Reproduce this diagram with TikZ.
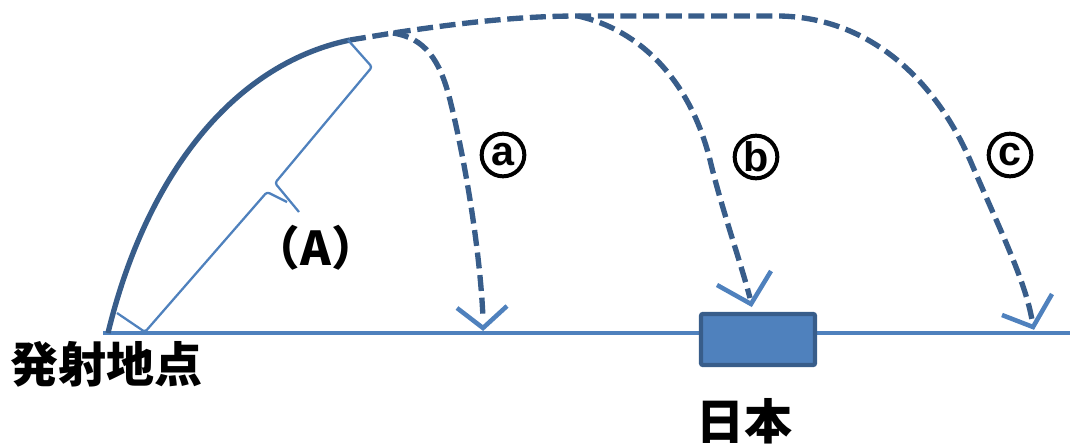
\documentclass[tikz,border=0pt]{standalone}
\usetikzlibrary{calc}
\usepackage{fontspec}
\newfontfamily\cjk{Noto Sans CJK JP}
\setsansfont{Liberation Sans}
\definecolor{dkblue}{RGB}{56,93,138}
\definecolor{ltblue}{RGB}{79,129,189}
\begin{document}
\begin{tikzpicture}[x=0.75pt,y=-0.75pt,
  ground/.style={ltblue,line width=3.4pt},
  launch/.style={dkblue,line width=4pt},
  flight/.style={dkblue,line width=4pt,dash pattern=on 12pt off 5pt},
  vhead/.style={ltblue,line width=3.4pt,line join=miter},
  brace/.style={ltblue,line width=1.7pt,rounded corners=2pt},
  circlab/.style={circle,draw=black,line width=3pt,minimum size=32pt,inner sep=0pt,font=\sffamily\bfseries\fontsize{31}{31}\selectfont},
  jlab/.style={font=\cjk\bfseries\fontsize{36}{36}\selectfont,inner sep=0pt}]
\useasboundingbox (0,0) rectangle (1070,447);
% coordinates
\coordinate (gl) at (103,333);
\coordinate (gr) at (1070,333);
\coordinate (launch) at (108,333);
\coordinate (apex) at (350,40);
\coordinate (brA) at (393,33);
\coordinate (brB) at (578,16);
\coordinate (brC) at (780,16);
\coordinate (endA) at (483,318);
\coordinate (endB) at (750,298);
\coordinate (endC) at (1032,320);
\coordinate (tipA) at (483,328);
\coordinate (tipB) at (751,304);
\coordinate (tipC) at (1033,327);
% ground
\draw[ground] (gl) -- (gr);
% Japan box
\node[draw=dkblue,fill=ltblue,line width=3.2pt,rounded corners=1.5pt,minimum width=85.5pt,minimum height=38.3pt,inner sep=0pt] (japan) at (758,339.5) {};
% launch curve
\draw[launch] (launch) .. controls (145,180) and (230,65) .. (apex);
% flight paths
\draw[flight] (apex) -- (brA) .. controls (440,26) and (510,16) .. (brB) -- (brC)
  .. controls (870,18) and (935,80) .. (970,160) .. controls (1000,230) and (1025,280) .. (endC);
\draw[flight] (brA) .. controls (425,38) and (440,60) .. (450,100) .. controls (465,160) and (480,250) .. (endA);
\draw[flight] (brB) .. controls (640,30) and (690,80) .. (710,160) .. controls (722,210) and (740,260) .. (endB);
% arrow heads
\draw[vhead] ($(tipA)+(-26,-20)$) -- (tipA) -- ($(tipA)+(24,-22)$);
\draw[vhead] ($(tipB)+(-34,-19)$) -- (tipB) -- ($(tipB)+(20,-33)$);
\draw[vhead] ($(tipC)+(-31,-12)$) -- (tipC) -- ($(tipC)+(19,-33)$);
% brace
\draw[brace] (348,40) -- (372,67) -- (275,183) -- (299,212);
\draw[brace] (117,313) -- (145,332) -- (267,192) -- (287,202);
% labels
\node[circlab] (la) at (503,155) {a};
\node[circlab] (lb) at (756,157) {b};
\node[circlab] (lc) at (1010,155) {c};
\node[jlab,font=\cjk\bfseries\fontsize{35}{35}\selectfont] (lA) at (316,248) {（A）};
\node[jlab] (site) at (106,364) {発射地点};
\node[jlab] (jp) at (744,421) {日本};
\end{tikzpicture}
\end{document}
